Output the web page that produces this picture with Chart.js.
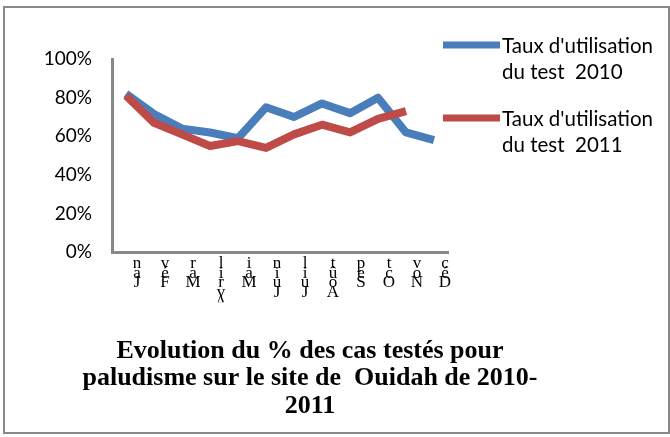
<!DOCTYPE html>
<html>
<head>
<meta charset="utf-8">
<title>Taux d'utilisation du test</title>
<script src="https://cdn.jsdelivr.net/npm/chart.js@4.4.1/dist/chart.umd.min.js"></script>
<style>
  html, body { margin: 0; padding: 0; background: #fff; }
  #wrap { position: relative; width: 670px; height: 437px; }
  #frame {
    position: absolute; left: 3px; top: 6px; width: 663px; height: 424px;
    border: 2px solid #898989; pointer-events: none;
  }
  canvas { position: absolute; left: 0; top: 0; }
</style>
</head>
<body>
<div id="wrap">
  <canvas id="chart" width="670" height="437"></canvas>
  <div id="frame"></div>
</div>
<script>
const months = ["Jan", "Fév", "Mar", "Avril", "Mai", "Juin", "Juil", "Août", "Sep", "Oct", "Nov", "Déc"];
const taux2010 = [82, 71.5, 64, 62, 59, 75, 70, 77, 72, 80, 62, 58];
const taux2011 = [81, 67, 61, 55, 57.5, 54, 61, 66, 62, 69, 73, null];
const yTicks = [0, 20, 40, 60, 80, 100];
const seriesNames = [
  ["Taux d'utilisation", "du test  2010"],
  ["Taux d'utilisation", "du test  2011"],
];
const titleLines = [
  "Evolution du % des cas testés pour",
  "paludisme sur le site de  Ouidah de 2010-",
  "2011",
];

// legend drawn to the right of the plot, two text lines per series
const sideLegend = {
  id: "sideLegend",
  afterDraw(chart) {
    const { ctx, chartArea } = chart;
    const x0 = chartArea.right - 5;
    ctx.save();
    chart.data.datasets.forEach((ds, i) => {
      const y = chartArea.top - 14 + i * 73;
      ctx.strokeStyle = ds.borderColor;
      ctx.lineWidth = 7;
      ctx.lineCap = "butt";
      ctx.beginPath();
      ctx.moveTo(x0, y);
      ctx.lineTo(x0 + 57, y);
      ctx.stroke();
      ctx.fillStyle = "#000";
      ctx.font = "20.5px Lato";
      ctx.textBaseline = "middle";
      seriesNames[i].forEach((line, j) => {
        ctx.fillText(line, x0 + 59, y + 1 + j * 26);
      });
    });
    ctx.restore();
  },
};

const ctx = document.getElementById("chart").getContext("2d");
new Chart(ctx, {
  type: "line",
  data: {
    labels: months,
    datasets: [
      {
        label: seriesNames[0].join(" "),
        data: taux2010,
        borderColor: "#4A7EBB",
        borderWidth: 8,
        borderJoinStyle: "round",
        pointRadius: 0,
        tension: 0,
        order: 1,
      },
      {
        label: seriesNames[1].join(" "),
        data: taux2011,
        borderColor: "#BE4B48",
        borderWidth: 8,
        borderJoinStyle: "round",
        pointRadius: 0,
        tension: 0,
        order: 0,
      },
    ],
  },
  options: {
    responsive: false,
    animation: false,
    layout: { padding: { left: 0, right: 50, top: 59, bottom: 17 } },
    plugins: {
      legend: { display: false },
      tooltip: { enabled: false },
      title: {
        display: true,
        position: "bottom",
        text: titleLines,
        color: "#000",
        font: { family: "Liberation Serif", size: 26, weight: "bold", lineHeight: 1.06 },
        padding: { top: 35, bottom: 0 },
      },
    },
    scales: {
      x: {
        offset: true,
        grid: { display: false, drawTicks: false },
        border: { color: "#898989", width: 3 },
        ticks: {
          autoSkip: false,
          maxRotation: 0,
          minRotation: 0,
          labelOffset: 11,
          padding: 6,
          color: "#000",
          font: { family: "Liberation Serif", size: 17, lineHeight: 0.58 },
          callback: (v, i) => months[i].split("").reverse(),
        },
        afterFit: (s) => { s.height = 50; },
      },
      y: {
        min: 0,
        max: 100,
        grid: { display: false, drawTicks: false },
        border: { color: "#898989", width: 3 },
        ticks: {
          padding: 20,
          color: "#000",
          font: { family: "Lato", size: 19 },
          callback: (v) => v + "%",
        },
        afterBuildTicks: (s) => { s.ticks = yTicks.map((v) => ({ value: v })); },
        afterFit: (s) => { s.width = 112; },
      },
      legendSpace: {
        axis: "y",
        type: "linear",
        position: "right",
        min: 0,
        max: 1,
        grid: { display: false, drawTicks: false },
        border: { display: false },
        ticks: { display: false },
        afterFit: (s) => { s.width = 172; },
      },
    },
  },
  plugins: [sideLegend],
});
</script>
</body>
</html>
